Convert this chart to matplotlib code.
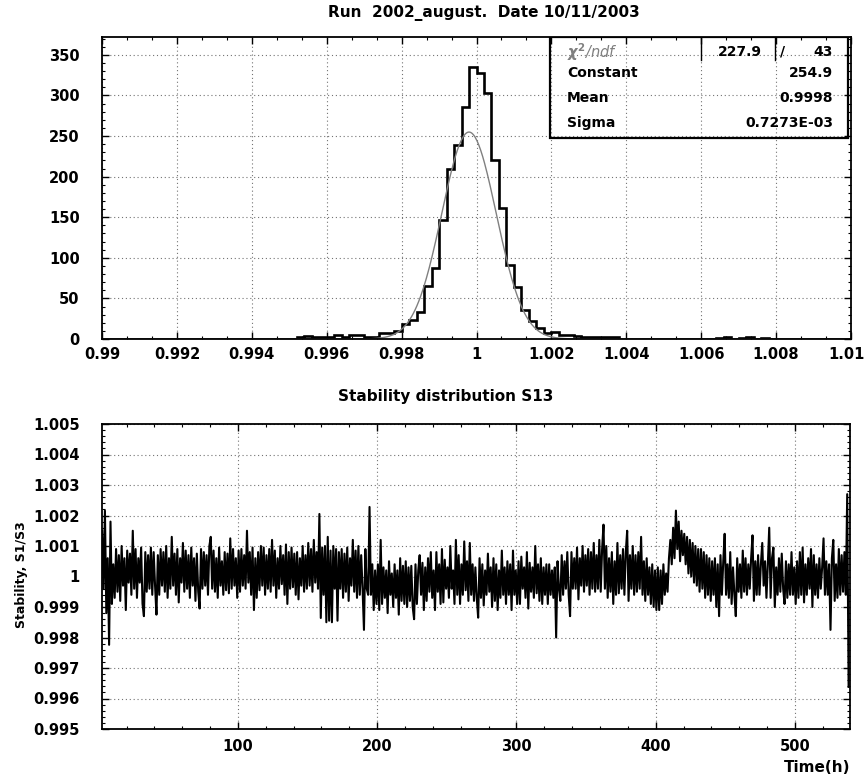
import matplotlib
matplotlib.use("Agg")
import matplotlib.pyplot as plt
import matplotlib.transforms as mtransforms
import numpy as np
from matplotlib.ticker import AutoMinorLocator, FixedLocator, FixedFormatter

plt.rcParams['font.family'] = ['DejaVu Sans']
plt.rcParams['font.weight'] = 'bold'

# ---- top panel: histogram of stability, 100 bins from 0.99 to 1.01
hist_lo, hist_hi, n_bins = 0.99, 1.01, 100
hist_counts = [0] * 26 + [
    2, 4, 2, 2, 3, 5, 3, 5, 5, 3,          # 0.9952 .. 0.9970
    3, 7, 8, 10, 18, 23, 33, 65, 88, 147,  # 0.9972 .. 0.9990
    210, 239, 286, 335, 328, 303, 220, 161, 91, 64,   # 0.9992 .. 1.0010
    36, 22, 13, 7, 9, 5, 5, 4, 3, 2,       # 1.0012 .. 1.0030
    2, 3, 2, 0, 0, 0, 0, 0, 0, 0,          # 1.0032 .. 1.0050
    0, 0, 0, 0, 0, 0, 1, 2, 0, 1,          # 1.0052 .. 1.0070
    2, 0, 1, 0, 0, 0, 0, 0, 0, 0,          # 1.0072 .. 1.0090
    0, 0, 0, 0, 0,                          # 1.0092 .. 1.0100
]
hist_counts = hist_counts[:n_bins]

# gaussian fit parameters (from the stats box)
fit_chi2, fit_ndf = 227.9, 43
fit_const, fit_mean, fit_sigma = 254.9, 0.9998, 0.7273e-03

top_xticks = [0.99, 0.992, 0.994, 0.996, 0.998, 1.0, 1.002, 1.004, 1.006, 1.008, 1.01]
top_xlabels = ['0.99', '0.992', '0.994', '0.996', '0.998', '1', '1.002', '1.004', '1.006', '1.008', '1.01']
top_yticks = [0, 50, 100, 150, 200, 250, 300, 350]

# ---- bottom panel: stability S1/S3 vs time, one reading per hour from t=2.5 h
time_start, time_step = 2.5, 1.0
# deviation from 1 in units of 1e-5, ten readings per row
stab_dev = [
    150, -40, 216, -120, 60, -224, 180, -90, 40, -70,
    90, -50, 70, -80, 100, -30, 60, -110, 85, -20,
    75, -60, 150, -40, 90, -70, 60, -20, 95, -90,
    -130, 80, -50, 70, -40, 95, -60, 80, -30, -125,
    70, -60, 90, -30, 80, -50, 100, -70, 60, -40,
    130, -30, 75, -60, 90, -85, 60, -20, 110, -50,
    85, -40, 70, -70, 95, -30, 60, -80, 75, -50,
    -105, 90, -40, 80, -30, 70, -60, 100, 130, -40,
    85, -50, 60, -70, 95, -30, 50, -60, 80, -45,
    75, -55, 125, -40, 90, -30, 60, -70, 85, -50,
    90, -30, 70, -40, 150, -20, 80, -60, 95, -110,
    60, -70, 80, -45, 100, -30, 95, -60, 70, -40,
    90, -50, 120, -30, 85, -70, 60, -40, 100, -25,
    70, -60, 105, -90, 80, -40, 95, -35, 75, -60,
    80, -75, 60, -30, 100, -50, 70, -40, 110, -30,
    90, -50, 120, -20, 80, -40, 205, -136, 95, -60,
    100, -150, 130, -145, 85, -150, 100, -40, 90, -145,
    80, -40, 90, -70, 75, -50, 95, -80, 60, -30,
    120, -50, 85, -70, 100, -60, 70, -40, -175, 90,
    -40, -60, 228, -60, 40, -110, 20, -90, 40, -110,
    120, -90, 30, -70, 20, -120, 50, -60, 10, -100,
    40, -70, 20, -125, 60, -80, 35, -90, 50, -100,
    30, -80, 35, -100, -140, 40, -90, 20, 70, -60,
    45, -110, 30, -80, 60, -50, 80, -70, 20, -110,
    80, -50, 40, -90, 90, -85, 55, -40, 30, -70,
    100, -40, 20, -90, 120, -60, 70, -90, 40, -60,
    115, -45, 50, -80, 110, -60, 40, -80, 30, -70,
    -135, 60, -70, 40, -95, 20, -60, 75, -50, 30,
    -100, 60, -80, 40, -110, 20, -70, 85, -60, 30,
    -90, 50, -60, 40, -110, 85, -60, 20, -90, 50,
    -90, 65, -40, 30, -70, 80, -105, 45, -50, 30,
    -70, 100, -55, 40, -80, 60, -90, 30, -60, 40,
    -90, 40, -60, 20, -70, 30, -200, 50, -40, -80,
    70, -60, 50, -40, 80, -60, -130, 80, -40, 60,
    -40, 95, -75, 60, -30, 100, -50, 70, -30, 90,
    -60, 80, -40, 110, -50, 70, -40, 120, -50, 90,
    170, -40, 100, -70, 60, -50, 80, -90, 50, -60,
    110, -55, 70, -40, 90, -60, 80, 150, -80, 70,
    -40, 100, -60, 70, -50, 80, -40, 130, -60, 50,
    -80, 60, -60, 30, -90, 40, -100, 20, -110, 30,
    -110, 20, -90, 40, -60, 10, -50, 60, 120, 40,
    160, 60, 216, 90, 180, 50, 150, 70, 140, 40,
    130, 10, 120, 0, 110, -20, 100, -30, 90, -50,
    90, -40, 80, -70, 70, -60, 60, -80, 50, -60,
    60, -100, 40, -130, 70, -60, 50, 140, -60, 40,
    -70, 80, -90, 30, -60, -130, 60, -50, 40, -70,
    85, -50, 60, -60, 40, -40, 60, 135, -80, 50,
    -60, 70, -60, 40, 110, -30, 50, -70, 40, 160,
    -70, 60, 95, -100, 30, -60, 60, -50, 75, -40,
    -90, 50, -70, 40, -60, 80, -60, 30, -90, 50,
    -70, 80, -60, 95, -85, 40, -60, 60, -40, 90,
    -100, 70, -60, 40, -70, 60, -40, 30, 125, -60,
    50, -60, 40, -175, 60, 120, -80, 40, -70, 90,
    -60, 70, -50, 80, -60, 270, -362,
]
bottom_yticks = [0.995, 0.996, 0.997, 0.998, 0.999, 1.0, 1.001, 1.002, 1.003, 1.004, 1.005]
bottom_ylabels = ['0.995', '0.996', '0.997', '0.998', '0.999', '1', '1.001', '1.002', '1.003', '1.004', '1.005']
bottom_xticks = [100, 200, 300, 400, 500]

W, H = 866, 776
fig = plt.figure(figsize=(W / 100, H / 100), dpi=100)
fig.patch.set_facecolor('white')


def px_axes(left, top, right, bottom):
    return fig.add_axes([left / W, 1 - bottom / H, (right - left) / W, (bottom - top) / H])


def paw_style(ax):
    ax.tick_params(which='both', direction='in', top=True, right=True, labelsize=10.5)
    ax.tick_params(which='major', length=5, width=1.0)
    ax.tick_params(which='minor', length=2.5, width=0.8)
    ax.tick_params(axis='y', pad=16)
    ax.tick_params(axis='x', pad=6)
    for s in ax.spines.values():
        s.set_linewidth(1.3)
    ax.grid(True, which='major', color='0.45', linestyle=(0, (1, 2.5)), linewidth=0.8)
    ax.set_axisbelow(True)


# ---------- top panel
ax1 = px_axes(102, 37, 851, 339)
edges = np.linspace(hist_lo, hist_hi, n_bins + 1)
ax1.stairs(hist_counts, edges, color='black', linewidth=1.9, baseline=None)
xf = np.linspace(hist_lo, hist_hi, 800)
ax1.plot(xf, fit_const * np.exp(-0.5 * ((xf - fit_mean) / fit_sigma) ** 2),
         color='0.5', linewidth=1.0)
ax1.set_xlim(hist_lo, hist_hi)
ax1.set_ylim(0, 372)
ax1.xaxis.set_major_locator(FixedLocator(top_xticks))
ax1.xaxis.set_major_formatter(FixedFormatter(top_xlabels))
ax1.xaxis.set_minor_locator(AutoMinorLocator(3))
ax1.yaxis.set_major_locator(FixedLocator(top_yticks))
ax1.yaxis.set_minor_locator(AutoMinorLocator(5))
paw_style(ax1)
# last label sits on the figure edge: nudge it inward a little
last = ax1.get_xticklabels()[-1]
last.set_transform(last.get_transform() + mtransforms.ScaledTranslation(-4 / 100, 0, fig.dpi_scale_trans))

# stats box
bx0, bx1, by0, by1 = 0.598, 0.996, 0.667, 1.0
ax1.add_patch(plt.Rectangle((bx0, by0), bx1 - bx0, by1 - by0, transform=ax1.transAxes,
                            fill=False, edgecolor='black', linewidth=1.6, zorder=5))
for xv in (0.80, 0.898):
    ax1.plot([xv, xv], [0.925, 1.0], transform=ax1.transAxes, color='black', lw=1.0, zorder=5)
rows_y = [0.951, 0.880, 0.797, 0.714]
ax1.text(0.621, rows_y[0], r'$\chi^2$/ndf', transform=ax1.transAxes, color='0.5',
         fontsize=10.5, fontweight='normal', fontstyle='italic', va='center', ha='left')
ax1.text(0.881, rows_y[0], f'{fit_chi2}', transform=ax1.transAxes, fontsize=10,
         va='center', ha='right')
ax1.text(0.908, rows_y[0], '/', transform=ax1.transAxes, fontsize=10, va='center', ha='center')
ax1.text(0.976, rows_y[0], f'{fit_ndf}', transform=ax1.transAxes, fontsize=10,
         va='center', ha='right')
stat_names = ['Constant', 'Mean', 'Sigma']
stat_vals = [f'{fit_const}', f'{fit_mean}', '0.7273E-03']
for yv, name, val in zip(rows_y[1:], stat_names, stat_vals):
    ax1.text(0.621, yv, name, transform=ax1.transAxes, fontsize=10, va='center', ha='left')
    ax1.text(0.976, yv, val, transform=ax1.transAxes, fontsize=10, va='center', ha='right')

fig.text(484 / W, 1 - 13 / H, 'Run  2002_august.  Date 10/11/2003', ha='center', va='center',
         fontsize=11)

# ---------- bottom panel
ax2 = px_axes(102, 424, 850, 729)
t = time_start + time_step * np.arange(len(stab_dev))
stab = 1.0 + np.array(stab_dev) * 1e-5
ax2.plot(t, stab, color='black', linewidth=1.5)
ax2.set_xlim(2.4, 539.5)
ax2.set_ylim(0.995, 1.005)
ax2.xaxis.set_major_locator(FixedLocator(bottom_xticks))
ax2.xaxis.set_minor_locator(AutoMinorLocator(5))
ax2.yaxis.set_major_locator(FixedLocator(bottom_yticks))
ax2.yaxis.set_major_formatter(FixedFormatter(bottom_ylabels))
ax2.yaxis.set_minor_locator(AutoMinorLocator(5))
paw_style(ax2)
ax2.tick_params(axis='x', pad=7)

fig.text(446 / W, 1 - 397 / H, 'Stability distribution S13', ha='center', va='center', fontsize=11)
fig.text(22 / W, 1 - 575 / H, 'Stability, S1/S3', ha='center', va='center', rotation=90,
         fontsize=9)
fig.text(850 / W, 1 - 767 / H, 'Time(h)', ha='right', va='center', fontsize=11)

fig.savefig('out.png', dpi=100, facecolor='white')
